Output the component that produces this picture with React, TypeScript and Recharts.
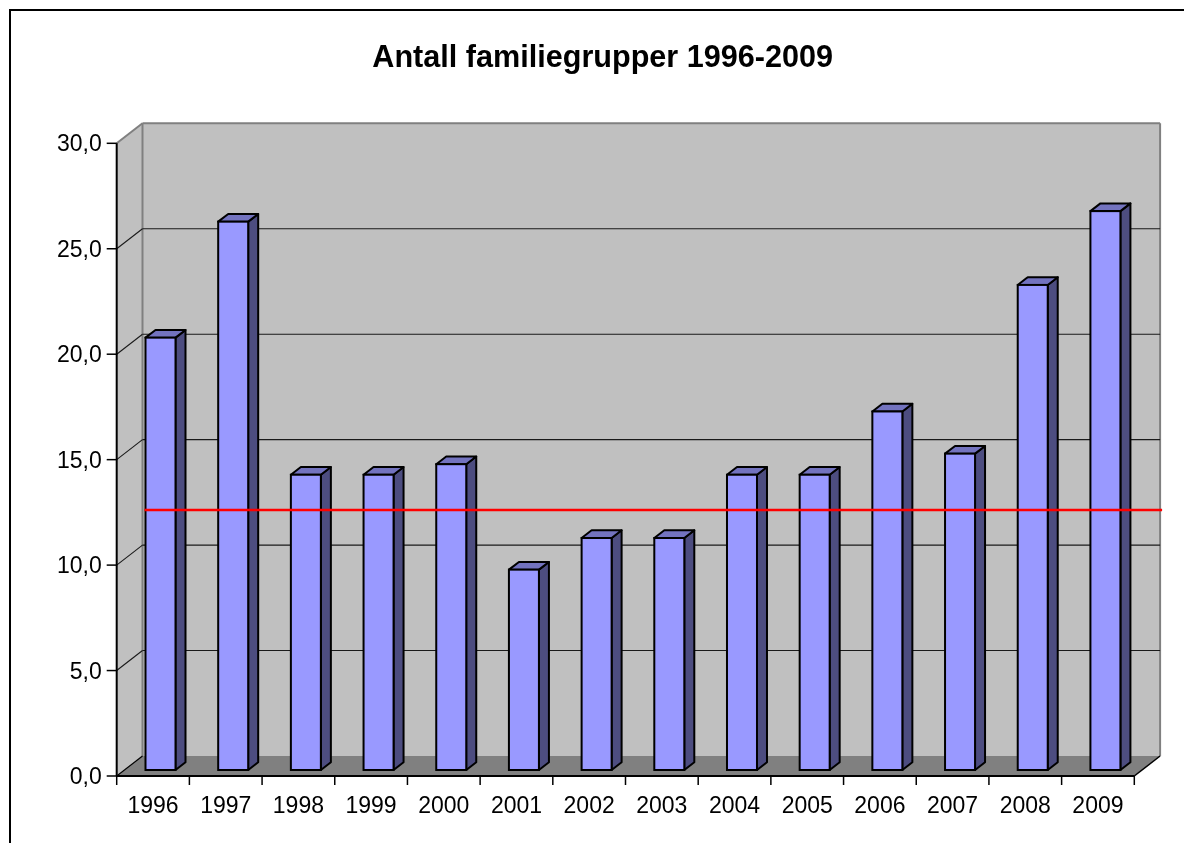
import React from 'react';
import { BarChart, Bar, XAxis, YAxis, ReferenceArea, ReferenceLine } from 'recharts';

const years = ['1996', '1997', '1998', '1999', '2000', '2001', '2002', '2003', '2004', '2005', '2006', '2007', '2008', '2009'];
const counts = [20.5, 26, 14, 14, 14.5, 9.5, 11, 11, 14, 14, 17, 15, 23, 26.5];
const yTicks = [0, 5, 10, 15, 20, 25, 30];
const gridValues = [5, 10, 15, 20, 25];
const markerLineValue = 11.66;
const title = 'Antall familiegrupper 1996-2009';

const data = years.map((year, i) => ({ year, value: counts[i] }));

const FONT = '"Liberation Sans", Arial, Helvetica, sans-serif';
const W = 1168;
const H = 827;
const MARGIN = { top: 135.3, right: 41.7, bottom: 19, left: 0 };
const Y_AXIS_W = 108.7;
const X_TICK_SIZE = 10;
const X_TICK_MARGIN = 10.7;
// 3D depth offsets
const WDX = 25.8; // wall depth x
const WDY = 20; // wall depth y
const BX = 7.8; // bar front plane offset
const BY = 6;
const DDX = 10; // bar depth
const DDY = 7.7;

const fmt = (v: number) => v.toFixed(1).replace('.', ',');

const WallShape = (props: any) => {
  const { x, y, width: w, height: h } = props;
  const bl = x, br = x + w, tp = y, bt = y + h;
  return (
    <g>
      <polygon points={`${bl},${tp} ${bl + WDX},${tp - WDY} ${bl + WDX},${bt - WDY} ${bl},${bt}`} fill="#C0C0C0" />
      <rect x={bl + WDX} y={tp - WDY} width={w} height={h} fill="#C0C0C0" />
      <polygon points={`${bl},${bt} ${bl + WDX},${bt - WDY} ${br + WDX},${bt - WDY} ${br},${bt}`} fill="#808080" />
      <line x1={bl} y1={tp} x2={bl + WDX} y2={tp - WDY} stroke="#808080" strokeWidth={2} />
      <line x1={bl + WDX} y1={tp - WDY} x2={br + WDX} y2={tp - WDY} stroke="#808080" strokeWidth={2} />
      <line x1={bl + WDX} y1={tp - WDY} x2={bl + WDX} y2={bt - WDY} stroke="#808080" strokeWidth={2} />
      <line x1={br + WDX} y1={tp - WDY} x2={br + WDX} y2={bt - WDY} stroke="#808080" strokeWidth={2} />
      <line x1={bl} y1={bt} x2={bl + WDX} y2={bt - WDY} stroke="#000" strokeWidth={1.2} />
      <line x1={br} y1={bt} x2={br + WDX} y2={bt - WDY} stroke="#000" strokeWidth={1.5} />
    </g>
  );
};

const GridShape = (props: any) => {
  const { x1, y1, x2, y2 } = props;
  return (
    <g>
      <line x1={x1} y1={y1} x2={x1 + WDX} y2={y1 - WDY} stroke="#1a1a1a" strokeWidth={1.1} />
      <line x1={x1 + WDX} y1={y1 - WDY} x2={x2 + WDX} y2={y2 - WDY} stroke="#1a1a1a" strokeWidth={1.1} />
    </g>
  );
};

const MarkerShape = (props: any) => {
  const { x1, y1, x2, y2 } = props;
  return <line x1={x1 + WDX + 2} y1={y1 - WDY} x2={x2 + WDX + 2} y2={y2 - WDY} stroke="#FF0000" strokeWidth={2.5} />;
};

const BoxBar = (props: any) => {
  const { x, y, width: w, height: h } = props;
  if (w == null || h == null) return null;
  const fx = x + BX;
  const fy = y - BY;
  return (
    <g>
      <polygon
        points={`${fx + w},${fy} ${fx + w + DDX},${fy - DDY} ${fx + w + DDX},${fy + h - DDY} ${fx + w},${fy + h}`}
        fill="#4D4D80"
        stroke="#000"
        strokeWidth={2}
        strokeLinejoin="round"
      />
      <polygon
        points={`${fx},${fy} ${fx + DDX},${fy - DDY} ${fx + w + DDX},${fy - DDY} ${fx + w},${fy}`}
        fill="#7373BF"
        stroke="#000"
        strokeWidth={2}
        strokeLinejoin="round"
      />
      <rect x={fx} y={fy} width={w} height={h} fill="#9999FF" stroke="#000" strokeWidth={2} />
    </g>
  );
};

const FALLBACK_HALF = (W - MARGIN.right - Y_AXIS_W) / years.length / 2;

const XTick = (props: any) => {
  const { x, y, payload, index } = props;
  const half = payload && typeof payload.offset === 'number' && payload.offset > 0 ? payload.offset : FALLBACK_HALF;
  const axisY = y - X_TICK_SIZE - X_TICK_MARGIN;
  return (
    <g>
      <line x1={x - half} y1={axisY} x2={x - half} y2={axisY + 9} stroke="#000" strokeWidth={1.5} />
      {index === years.length - 1 && (
        <line x1={x + half} y1={axisY} x2={x + half} y2={axisY + 9} stroke="#000" strokeWidth={1.5} />
      )}
      <text x={x} y={y} dy="0.71em" textAnchor="middle" fontSize={23} fontFamily={FONT} fill="#000">
        {payload.value}
      </text>
    </g>
  );
};

export default function App() {
  return (
    <div style={{ position: 'relative', width: W, height: H, background: '#fff' }}>
      <div
        style={{
          position: 'fixed',
          left: 9,
          top: 9,
          width: 3000,
          height: 3000,
          border: '2px solid #000',
          boxSizing: 'border-box',
          pointerEvents: 'none',
        }}
      />
      <svg width={W} height={H} style={{ position: 'absolute', left: 0, top: 0 }}>
        <text x={594.7} y={58.7} textAnchor="middle" fontSize={30.6} fontWeight="bold" fontFamily={FONT} fill="#000">
          {title}
        </text>
      </svg>
      <div style={{ position: 'absolute', left: 0, top: 0 }}>
        <BarChart width={W} height={H} data={data} margin={MARGIN} barSize={30}>
          <XAxis
            dataKey="year"
            axisLine={{ stroke: '#000', strokeWidth: 2 }}
            tickLine={false}
            tickSize={X_TICK_SIZE}
            tickMargin={X_TICK_MARGIN}
            tick={<XTick />}
            interval={0}
            height={40}
          />
          <YAxis
            domain={[0, 30]}
            ticks={yTicks}
            width={Y_AXIS_W}
            tickFormatter={fmt}
            axisLine={{ stroke: '#000', strokeWidth: 2 }}
            tickLine={{ stroke: '#000', strokeWidth: 1.5 }}
            tickSize={10}
            tickMargin={5}
            tick={{ fontSize: 23, fill: '#000', fontFamily: FONT }}
            interval={0}
          />
          <ReferenceArea y1={0} y2={30} shape={<WallShape />} zIndex={-200} />
          {gridValues.map((v) => (
            <ReferenceLine key={v} y={v} shape={<GridShape />} zIndex={-150} />
          ))}
          <Bar dataKey="value" isAnimationActive={false} shape={<BoxBar />} />
          <ReferenceLine y={markerLineValue} shape={<MarkerShape />} zIndex={1500} />
        </BarChart>
      </div>
    </div>
  );
}
